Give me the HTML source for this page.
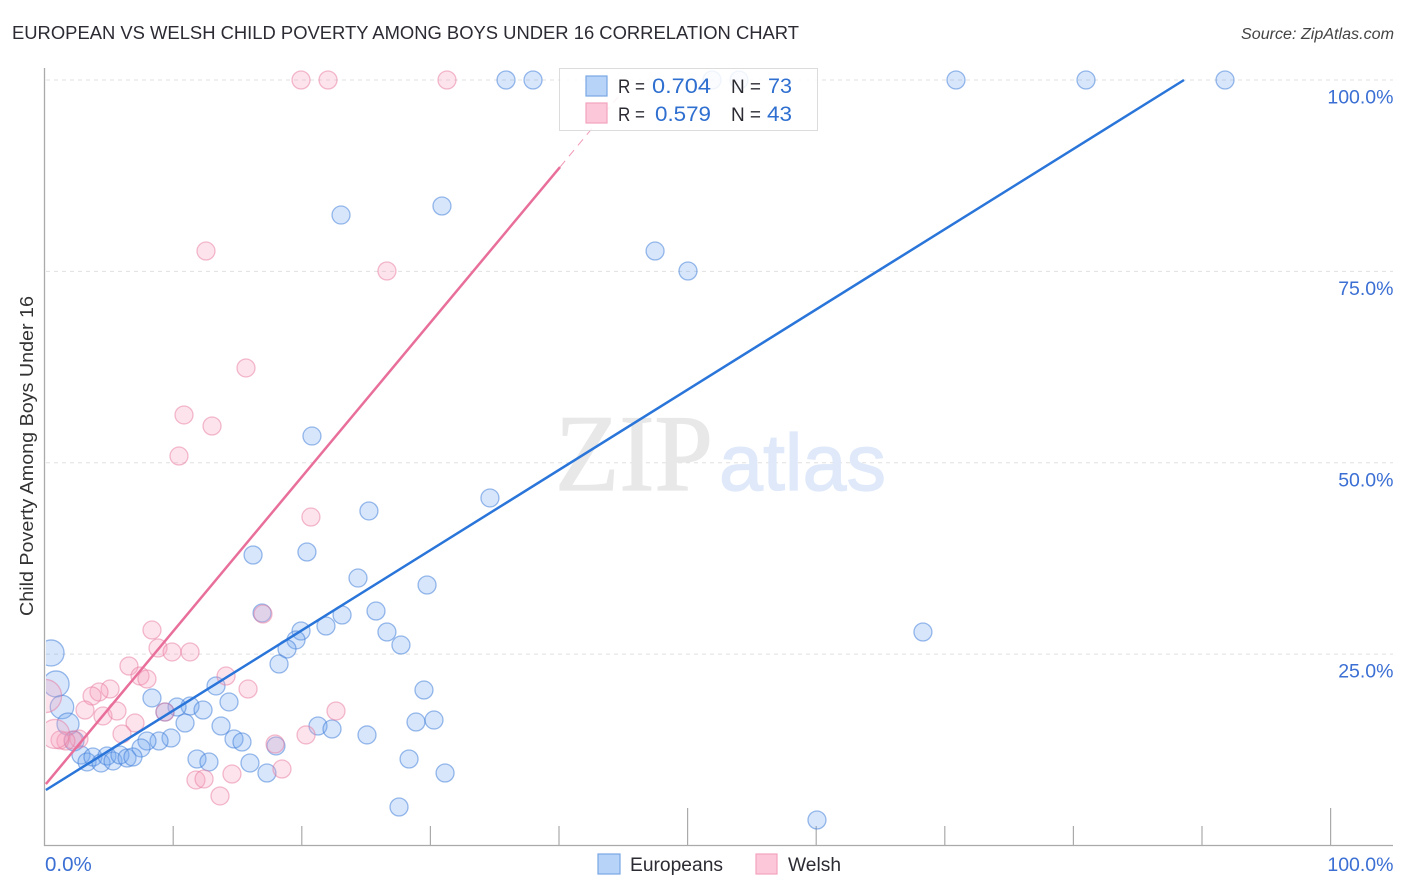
<!DOCTYPE html>
<html lang="en">
<head>
<meta charset="utf-8">
<title>European vs Welsh Child Poverty Among Boys Under 16 Correlation Chart</title>
<style>
html,body{margin:0;padding:0;background:#fff;}
svg{display:block;font-family:"Liberation Sans",sans-serif;}
</style>
</head>
<body>
<svg id="chart" xmlns="http://www.w3.org/2000/svg" width="1406" height="892" viewBox="0 0 1406 892">
  <defs>
    <clipPath id="plot-clip"><rect x="46" y="60" width="1350" height="786"/></clipPath>
  </defs>
  <text x="12" y="39" font-size="18.5" fill="#2b2b33" textLength="787" lengthAdjust="spacingAndGlyphs">EUROPEAN VS WELSH CHILD POVERTY AMONG BOYS UNDER 16 CORRELATION CHART</text>
  <text x="1241" y="39" font-size="15.5" font-style="italic" fill="#444" textLength="153" lengthAdjust="spacingAndGlyphs">Source: ZipAtlas.com</text>
  <text transform="translate(33,616) rotate(-90)" font-size="18" fill="#333" textLength="320" lengthAdjust="spacingAndGlyphs">Child Poverty Among Boys Under 16</text>

  <g id="grid"></g>
  <g>
    <text x="555" y="490" font-family="'Liberation Serif',serif" font-size="109" fill="#e8e8e8" stroke="#e8e8e8" stroke-width="1.2" textLength="158" lengthAdjust="spacingAndGlyphs">ZIP</text>
    <text x="719" y="490" font-size="80" fill="#dfe9fa" stroke="#dfe9fa" stroke-width="1.2" textLength="167" lengthAdjust="spacingAndGlyphs">atlas</text>
  </g>
  <g id="axes"></g>
  <g id="points-europeans" clip-path="url(#plot-clip)"></g>
  <g id="points-welsh" clip-path="url(#plot-clip)"></g>
  <g id="trends"></g>
  <g id="tick-labels"></g>

  <g>
    <rect x="559.5" y="68.5" width="258" height="62" fill="#fff" fill-opacity="0.86" stroke="#dcdcdc" stroke-width="1"/>
    <rect x="586" y="76" width="21" height="20" fill="#b8d3f8" stroke="#7aa6e4" stroke-width="1.2"/>
    <rect x="586" y="103" width="21" height="20" fill="#fcc7d8" stroke="#f3a3bf" stroke-width="1.2"/>
    <text x="618" y="93" font-size="19" fill="#2b2b33" textLength="27" lengthAdjust="spacingAndGlyphs">R =</text>
    <text x="652" y="93" font-size="21" fill="#2f6fd0" textLength="59" lengthAdjust="spacingAndGlyphs">0.704</text>
    <text x="731" y="93" font-size="19" fill="#2b2b33" textLength="30">N =</text>
    <text x="768" y="93" font-size="21" fill="#2f6fd0" textLength="24" lengthAdjust="spacingAndGlyphs">73</text>
    <text x="618" y="121" font-size="19" fill="#2b2b33" textLength="27" lengthAdjust="spacingAndGlyphs">R =</text>
    <text x="655" y="121" font-size="21" fill="#2f6fd0" textLength="56" lengthAdjust="spacingAndGlyphs">0.579</text>
    <text x="731" y="121" font-size="19" fill="#2b2b33" textLength="30">N =</text>
    <text x="767" y="121" font-size="21" fill="#2f6fd0" textLength="25" lengthAdjust="spacingAndGlyphs">43</text>
  </g>

  <g>
    <rect x="598" y="854" width="22" height="20" fill="#b8d3f8" stroke="#7aa6e4" stroke-width="1.2"/>
    <text x="630" y="871" font-size="19" fill="#2b2b33" textLength="93" lengthAdjust="spacingAndGlyphs">Europeans</text>
    <rect x="756" y="854" width="21" height="20" fill="#fcc7d8" stroke="#f3a3bf" stroke-width="1.2"/>
    <text x="788" y="871" font-size="19" fill="#2b2b33" textLength="53" lengthAdjust="spacingAndGlyphs">Welsh</text>
  </g>
</svg>
<script>
const europeansX = [35.88,37.98,51.90,54.0,70.87,80.98,91.79,23.05,30.90,47.47,50.03,20.79,34.63,25.22,16.21,20.40,24.37,29.74,16.91,25.77,23.13,21.88,19.94,19.55,18.85,26.62,27.71,68.30,18.23,29.50,13.33,8.35,14.34,11.31,10.30,12.32,9.36,10.92,13.72,21.26,22.35,28.88,30.28,25.07,14.73,15.35,9.83,8.90,7.96,17.99,7.50,11.85,12.78,15.97,17.29,28.34,31.14,27.56,60.06,0.50,0.89,1.35,1.82,2.29,2.83,3.30,3.76,4.39,4.85,5.32,5.86,6.41,6.87];
const europeansY = [100,100,100,100,100,100,100,82.36,83.54,77.66,75.05,53.49,45.40,43.70,37.95,38.34,34.94,34.03,30.37,30.63,30.11,28.67,28.02,26.85,25.67,27.89,26.19,27.89,23.71,20.31,20.84,19.27,18.75,18.22,18.09,17.70,17.44,16.0,15.61,15.61,15.22,16.13,16.39,14.44,13.91,13.52,14.04,13.65,13.65,13.0,12.74,11.30,10.91,10.78,9.47,11.30,9.47,5.03,3.33,25.15,21.10,18.09,15.87,13.65,11.82,10.91,11.56,10.78,11.69,11.04,11.82,11.43,11.56];
const europeansWeight = [1,1,1,1,1,1,1,1,1,1,1,1,1,1,1,1,1,1,1,1,1,1,1,1,1,1,1,1,1,1,1,1,1,1,1,1,1,1,1,1,1,1,1,1,1,1,1,1,1,1,1,1,1,1,1,1,1,1,1,2.1,2.1,1.7,1.5,1.2,1,1,1,1,1,1,1,1,1];
const welshX = [19.94,22.04,31.29,12.55,26.62,15.66,10.84,13.02,10.45,20.71,16.98,8.35,8.82,9.91,11.31,6.56,7.42,7.96,14.11,15.82,5.09,4.23,3.69,3.14,4.54,5.63,9.36,22.66,7.03,6.02,20.33,17.92,2.67,2.21,1.66,1.20,0.81,0.03,14.57,18.46,11.77,12.40,13.64];
const welshY = [100,100,100,77.66,75.05,62.38,56.24,54.80,50.88,42.91,30.24,28.15,25.80,25.28,25.28,23.45,22.14,21.75,22.14,20.44,20.44,20.05,19.53,17.70,16.92,17.57,17.44,17.57,16.0,14.57,14.44,13.26,13.91,13.78,13.65,13.78,14.57,19.53,9.34,9.99,8.56,8.69,6.47];
const welshWeight = [1,1,1,1,1,1,1,1,1,1,1,1,1,1,1,1,1,1,1,1,1,1,1,1,1,1,1,1,1,1,1,1,1,1,1,1,2.6,3.4,1,1,1,1,1];
const blueTrendX = [0.1,88.6];
const blueTrendY = [7.25,100];
const pinkTrendX = [0.1,40.08];
const pinkTrendY = [8.03,88.63];
const pinkExtensionX = [40.08,44.6];
const pinkExtensionY = [88.63,97.8];
const gridValues = [100,75,50,25];
const yTickLabels = ["100.0%","75.0%","50.0%","25.0%"];
const xTickValues = [0,10,20,30,40,50,60,70,80,90,100];
const xEdgeLabels = ["0.0%","100.0%"];

const NS = 'http://www.w3.org/2000/svg';
function xScale(v){ return 44.6 + v * 12.86; }
function yScale(v){ return 845.5 - v * 7.655; }
function rScale(w){ return 9 * Math.sqrt(w); }
function mk(tag, parent, attrs){
  const el = document.createElementNS(NS, tag);
  for (const k in attrs) el.setAttribute(k, attrs[k]);
  parent.appendChild(el);
  return el;
}

const grid = document.getElementById('grid');
gridValues.forEach(function(v){
  const line = mk('line', grid, {x1:46, x2:1393, y1:yScale(v), y2:yScale(v), stroke:'#e0e0e0', 'stroke-width':1, 'stroke-dasharray':'4 4'});
  
  
});

const axes = document.getElementById('axes');
const yAxis = mk('line', axes, {x1:44.5, x2:44.5, y1:68, y2:846, stroke:'#aaa', 'stroke-width':1.3});


const xAxis = mk('line', axes, {x1:44, x2:1393, y1:845.5, y2:845.5, stroke:'#aaa', 'stroke-width':1.3});


xTickValues.forEach(function(v){
  if (v === 0) return;
  const top = (v === 50 || v === 100) ? 808 : 826;
  const tick = mk('line', axes, {x1:xScale(v), x2:xScale(v), y1:top, y2:845, stroke:'#aaa', 'stroke-width':1.2});
  
  
});

function drawPoints(groupId, xs, ys, ws, fill, stroke, name){
  const g = document.getElementById(groupId);
  xs.forEach(function(x, i){
    const c = mk('circle', g, {cx:xScale(x), cy:yScale(ys[i]), r:rScale(ws[i]), fill:fill, 'fill-opacity':0.28, stroke:stroke, 'stroke-opacity':0.5, 'stroke-width':1.3});
    
    
  });
}
drawPoints('points-europeans', europeansX, europeansY, europeansWeight, '#6fa6f0', '#3a7ad8', 'europeans-point');
drawPoints('points-welsh', welshX, welshY, welshWeight, '#f79dbb', '#e8799f', 'welsh-point');

const trends = document.getElementById('trends');
const blueTrend = mk('line', trends, {x1:xScale(blueTrendX[0]), y1:yScale(blueTrendY[0]), x2:xScale(blueTrendX[1]), y2:yScale(blueTrendY[1]), stroke:'#2a75d9', 'stroke-width':2.5});


const pinkTrend = mk('line', trends, {x1:xScale(pinkTrendX[0]), y1:yScale(pinkTrendY[0]), x2:xScale(pinkTrendX[1]), y2:yScale(pinkTrendY[1]), stroke:'#e96f9b', 'stroke-width':2.5});


const pinkExt = mk('line', trends, {x1:xScale(pinkExtensionX[0]), y1:yScale(pinkExtensionY[0]), x2:xScale(pinkExtensionX[1]), y2:yScale(pinkExtensionY[1]), stroke:'#e96f9b', 'stroke-width':1, 'stroke-dasharray':'8 6', 'stroke-opacity':0.7});



const labels = document.getElementById('tick-labels');
gridValues.forEach(function(v, i){
  const t = mk('text', labels, {x:1393.5, y:yScale(v) + 23.5, 'text-anchor':'end', 'font-size':19.5, fill:'#3b6fd4'});
  t.textContent = yTickLabels[i];
  
  
});
const x0Label = mk('text', labels, {x:45, y:871, 'font-size':20.5, fill:'#3b6fd4'});
x0Label.textContent = xEdgeLabels[0];


const x1Label = mk('text', labels, {x:1393.5, y:871, 'text-anchor':'end', 'font-size':19.5, fill:'#3b6fd4'});
x1Label.textContent = xEdgeLabels[1];


</script>
</body>
</html>
